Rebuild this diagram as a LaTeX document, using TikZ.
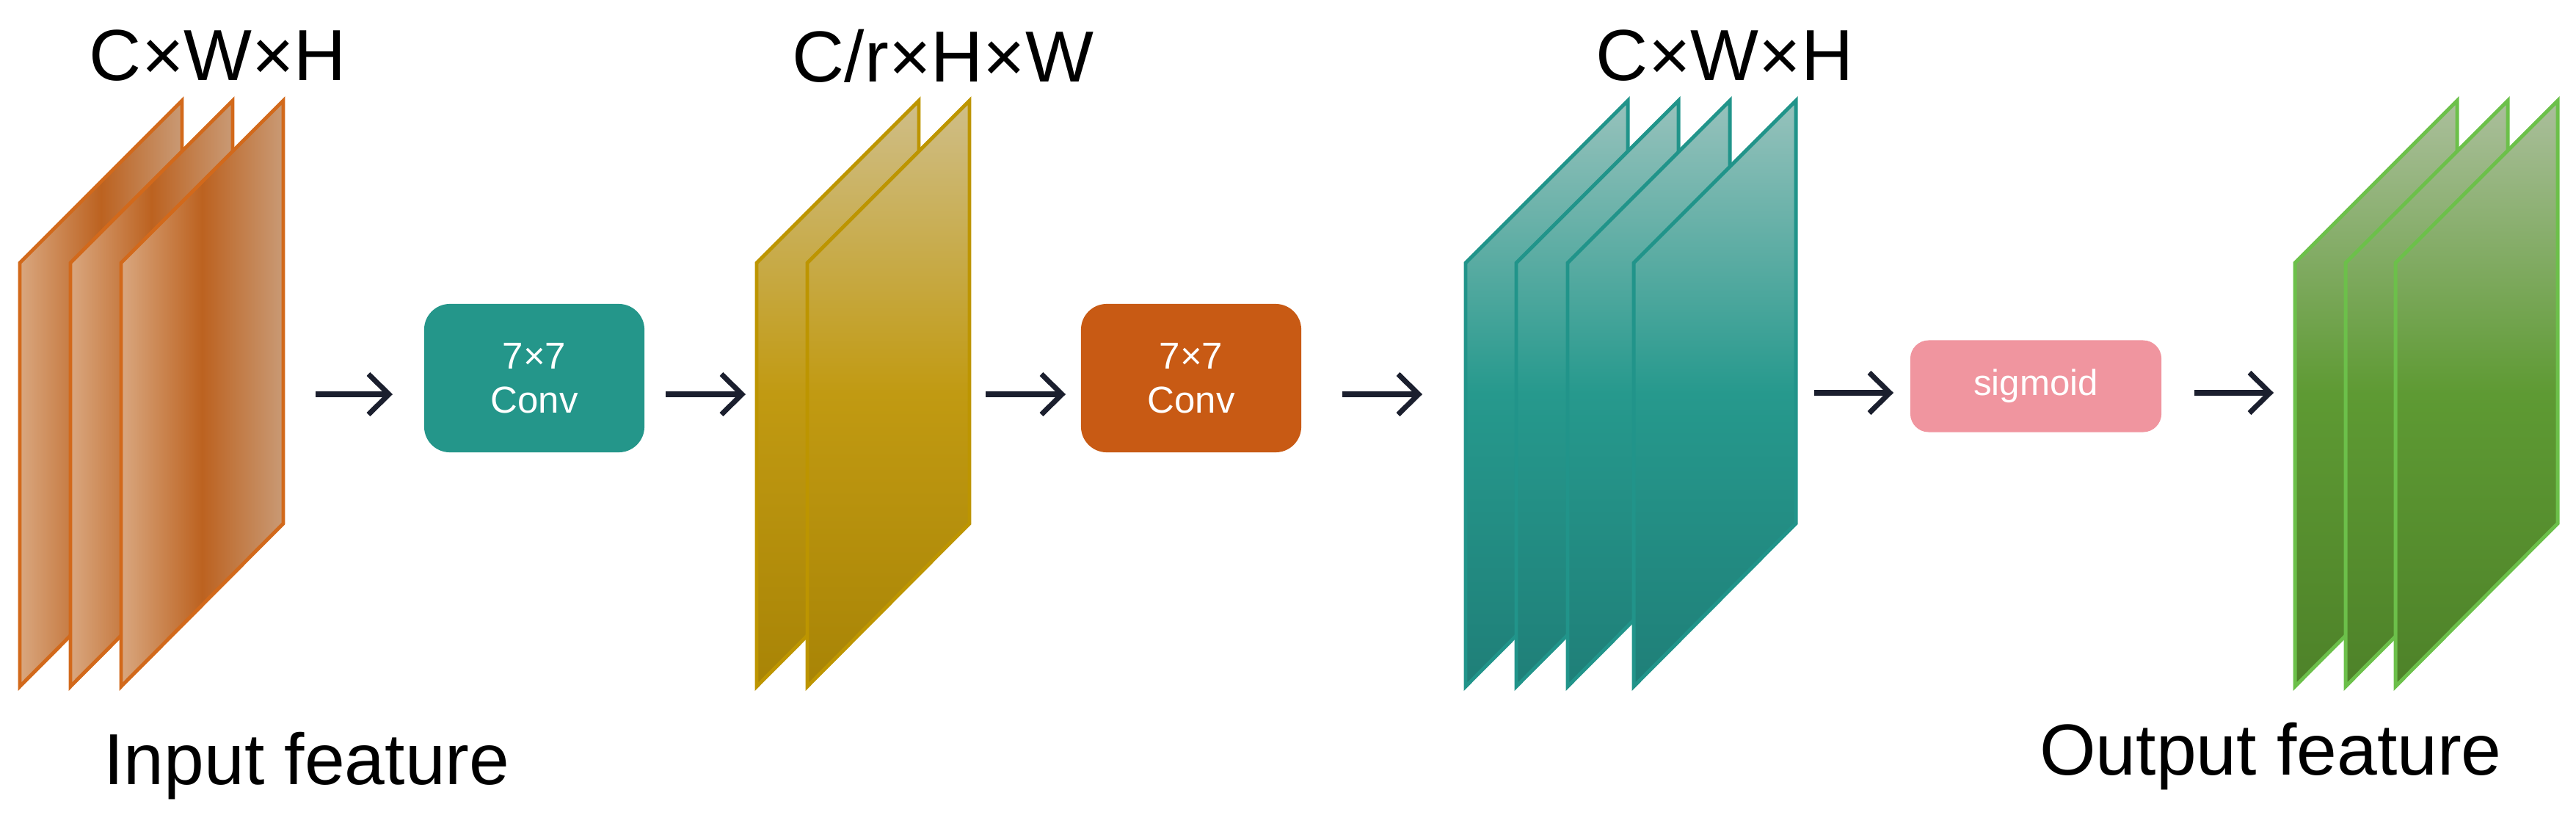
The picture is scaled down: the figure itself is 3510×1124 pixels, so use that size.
\documentclass[tikz,border=0pt]{standalone}
\usepackage{fontspec}
\setmainfont{Liberation Sans}
\usetikzlibrary{arrows.meta}
\definecolor{orB}{HTML}{D2691B}
\definecolor{orL}{HTML}{D9A77F}
\definecolor{orM}{HTML}{BC6220}
\definecolor{orR}{HTML}{C99A75}
\definecolor{yeB}{HTML}{BD9500}
\definecolor{yeT}{HTML}{CFBE88}
\definecolor{yeM}{HTML}{C19A12}
\definecolor{yeD}{HTML}{A88406}
\definecolor{teB}{HTML}{21948A}
\definecolor{teT}{HTML}{97C2BC}
\definecolor{teM}{HTML}{26998D}
\definecolor{teD}{HTML}{1F7F78}
\definecolor{grB}{HTML}{6CC04A}
\definecolor{grT}{HTML}{ABBF9C}
\definecolor{grM}{HTML}{5E9A33}
\definecolor{grD}{HTML}{4E8229}
\definecolor{boxTe}{HTML}{24968A}
\definecolor{boxOr}{HTML}{C85A14}
\definecolor{boxPk}{HTML}{F0959F}
\definecolor{arr}{HTML}{1B1F2E}
\newcommand\mysheet[2]{\path[#2,line width=1.4pt,line join=miter] (#1,358) -- ++(221,-221) -- ++(0,576) -- ++(-221,222) -- cycle;}
\tikzset{
  insheet/.style={draw=orB,left color=orL,right color=orR,middle color=orM},
  yesheet/.style={draw=yeB,shading=axis,top color=yeT,bottom color=yeD,middle color=yeM},
  tesheet/.style={draw=teB,shading=axis,top color=teT,bottom color=teD,middle color=teM},
  grsheet/.style={draw=grB,shading=axis,top color=grT,bottom color=grD,middle color=grM},
  opbox/.style={rounded corners=0.35cm,minimum width=3cm,minimum height=2.02cm,text=white,font=\fontsize{14.5}{17}\selectfont,align=center,inner sep=0pt},
  lbl/.style={font=\fontsize{28}{32}\selectfont,inner sep=0pt},
  flow/.style={arr,line width=2pt,-{Straight Barb[length=0.28cm,width=0.55cm,line width=2pt]}}
}
\begin{document}
\begin{tikzpicture}[x=0.01cm,y=-0.01cm]
\path[use as bounding box] (0,0) rectangle (3510,1124);
% input
\mysheet{27}{insheet}\mysheet{96}{insheet}\mysheet{165}{insheet}
% yellow
\mysheet{1031}{yesheet}\mysheet{1100}{yesheet}
% teal
\mysheet{1997}{tesheet}\mysheet{2066}{tesheet}\mysheet{2136}{tesheet}\mysheet{2226}{tesheet}
% green
\mysheet{3127}{grsheet}\mysheet{3196}{grsheet}\mysheet{3264}{grsheet}
% labels
\node[lbl] (t1) at (297,76) {C×W×H};
\node[lbl] (t2) at (1285,76) {C/r×H×W};
\node[lbl] (t3) at (2350,76) {C×W×H};
\node[lbl] (in) at (418,1043) {Input feature};
\node[lbl] (out) at (3094,1030) {Output feature};
% boxes
\node[opbox,fill=boxTe] (c1) at (728,515) {7×7\\Conv};
\node[opbox,fill=boxOr] (c2) at (1623,515) {7×7\\Conv};
\node[opbox,fill=boxPk,minimum width=3.42cm,minimum height=1.25cm,rounded corners=0.25cm,font=\fontsize{14}{17}\selectfont] (sg) at (2774,526) {sigmoid};
% arrows
\coordinate (a1s) at (430,537); \coordinate (a1e) at (535,537);
\coordinate (a2s) at (907,537); \coordinate (a2e) at (1016,537);
\coordinate (a3s) at (1343,537); \coordinate (a3e) at (1452,537);
\coordinate (a4s) at (1829,537); \coordinate (a4e) at (1938,537);
\coordinate (a5s) at (2472,535); \coordinate (a5e) at (2580,535);
\coordinate (a6s) at (2990,535); \coordinate (a6e) at (3098,535);
\foreach \i in {1,...,6} \draw[flow] (a\i s) -- (a\i e);
\end{tikzpicture}
\end{document}
